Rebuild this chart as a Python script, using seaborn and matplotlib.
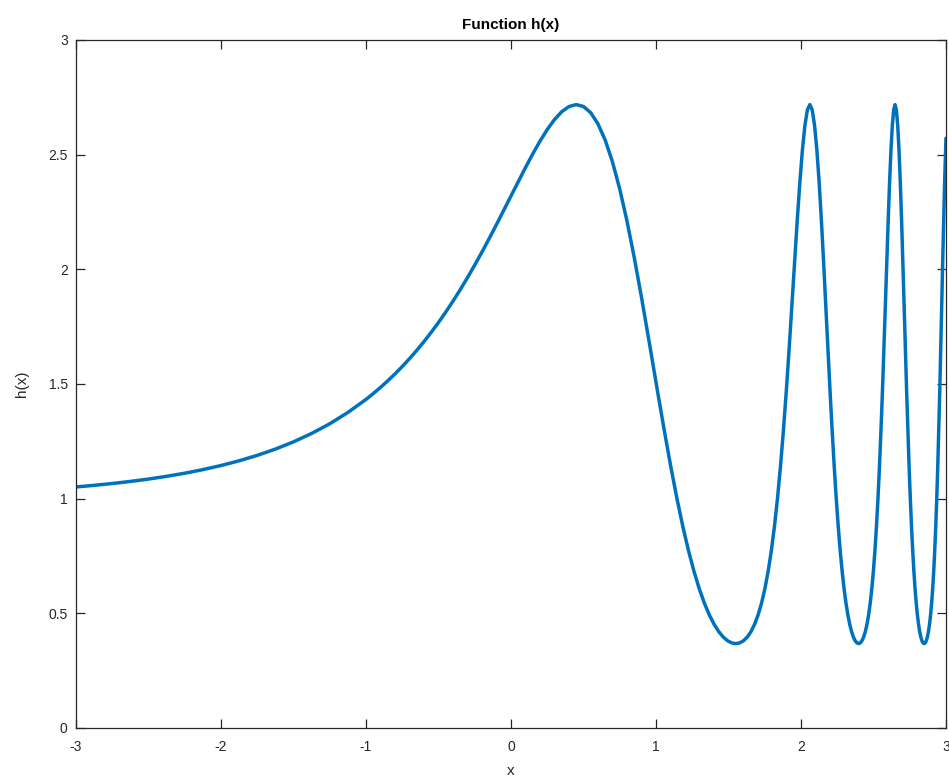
import matplotlib
matplotlib.use("Agg")
import matplotlib.pyplot as plt
import seaborn as sns
import pandas as pd

# Values (x, h(x))
x_vals = [
    -3.0, -2.875, -2.75, -2.625, -2.5, -2.375, -2.25, -2.125, -2.0,
    -1.875, -1.75, -1.625, -1.5, -1.375, -1.25, -1.125, -1.0,
    -0.95, -0.9, -0.85, -0.8, -0.75, -0.7, -0.65, -0.6, -0.55, -0.5,
    -0.45, -0.4, -0.35, -0.3, -0.25, -0.2, -0.15, -0.1, -0.05, 0.0,
    0.05, 0.1, 0.15, 0.2, 0.25, 0.3, 0.35, 0.4, 0.45, 0.5,
    0.55, 0.6, 0.65, 0.7, 0.75, 0.8, 0.85, 0.9,
    0.962408, 1.011199, 1.057718, 1.102171, 1.144730, 1.185552, 1.224772, 1.262513,
    1.298880, 1.333972, 1.367873, 1.400664, 1.432412, 1.463184, 1.493036, 1.522024,
    1.550195, 1.577594, 1.604262, 1.630238, 1.655555, 1.680248, 1.704345, 1.727876,
    1.750865, 1.773338, 1.795317, 1.816823, 1.837877, 1.858496, 1.878699, 1.898502,
    1.917920, 1.936968, 1.955660, 1.974009, 1.992028, 2.009728, 2.027119, 2.044214,
    2.061020, 2.077549, 2.093810, 2.109811, 2.125559, 2.141063, 2.156331, 2.171369,
    2.186184, 2.200783, 2.215171, 2.229356, 2.243342, 2.257136, 2.270741, 2.284164,
    2.297409, 2.310481, 2.323385, 2.336124, 2.348702, 2.361125, 2.373395, 2.385517,
    2.397493, 2.409327, 2.421023, 2.432584, 2.444013, 2.455312, 2.466485, 2.477535,
    2.488464, 2.499276, 2.509971, 2.520553, 2.531024, 2.541387, 2.551643, 2.561796,
    2.571846, 2.581797, 2.591649, 2.601405, 2.611067, 2.620636, 2.630115, 2.639505,
    2.648807, 2.658024, 2.667156, 2.676207, 2.685175, 2.694064, 2.702874, 2.711608,
    2.720266, 2.728850, 2.737360, 2.745799, 2.754168, 2.762467, 2.770697, 2.778860,
    2.786957, 2.794990, 2.802958, 2.810863, 2.818706, 2.826488, 2.834210, 2.841873,
    2.849478, 2.857025, 2.864516, 2.871951, 2.879331, 2.886658, 2.893930, 2.901150,
    2.908318, 2.915436, 2.922503, 2.929520, 2.936489, 2.943410, 2.950282, 2.957108,
    2.963888, 2.970622, 2.977311, 2.983956, 2.990556, 2.997114, 3.0,
]
h_vals = [
    1.05103, 1.05801, 1.06597, 1.07506, 1.08545, 1.09733, 1.11094, 1.12654, 1.14445,
    1.16504, 1.18875, 1.21609, 1.24768, 1.28422, 1.32658, 1.37572, 1.43279,
    1.45816, 1.48507, 1.51364, 1.54398, 1.57617, 1.61031, 1.64651, 1.68485, 1.72542, 1.76830,
    1.81356, 1.86123, 1.91132, 1.96382, 2.01865, 2.07566, 2.13466, 2.19531, 2.25721, 2.31978,
    2.38227, 2.44377, 2.50311, 2.55891, 2.60951, 2.65300, 2.68723, 2.70982, 2.71827, 2.71005,
    2.68272, 2.63421, 2.56296, 2.46820, 2.35020, 2.21047, 2.05179, 1.87825,
    1.64872, 1.46621, 1.29540, 1.13943, 1.0, 0.87763, 0.77196, 0.68203,
    0.60653, 0.54402, 0.49307, 0.45233, 0.42062, 0.39698, 0.38063, 0.37104,
    0.36788, 0.37104, 0.38063, 0.39698, 0.42062, 0.45233, 0.49307, 0.54402,
    0.60653, 0.68203, 0.77196, 0.87763, 1.0, 1.13943, 1.29540, 1.46621,
    1.64872, 1.83815, 2.02811, 2.21080, 2.37744, 2.51905, 2.62722, 2.69513,
    2.71828, 2.69513, 2.62722, 2.51905, 2.37744, 2.21080, 2.02811, 1.83815,
    1.64872, 1.46621, 1.29540, 1.13943, 1.0, 0.87763, 0.77196, 0.68203,
    0.60653, 0.54402, 0.49307, 0.45233, 0.42062, 0.39698, 0.38063, 0.37104,
    0.36788, 0.37104, 0.38063, 0.39698, 0.42062, 0.45233, 0.49307, 0.54402,
    0.60653, 0.68203, 0.77196, 0.87763, 1.0, 1.13943, 1.29540, 1.46621,
    1.64872, 1.83815, 2.02811, 2.21080, 2.37744, 2.51905, 2.62722, 2.69513,
    2.71828, 2.69513, 2.62722, 2.51905, 2.37744, 2.21080, 2.02811, 1.83815,
    1.64872, 1.46621, 1.29540, 1.13943, 1.0, 0.87763, 0.77196, 0.68203,
    0.60653, 0.54402, 0.49307, 0.45233, 0.42062, 0.39698, 0.38063, 0.37104,
    0.36788, 0.37104, 0.38063, 0.39698, 0.42062, 0.45233, 0.49307, 0.54402,
    0.60653, 0.68203, 0.77196, 0.87763, 1.0, 1.13943, 1.29540, 1.46621,
    1.64872, 1.83815, 2.02811, 2.21080, 2.37744, 2.51905, 2.57145,
]
x_ticks = [-3, -2, -1, 0, 1, 2, 3]
y_ticks = [0, 0.5, 1, 1.5, 2, 2.5, 3]
y_tick_labels = ["0", "0.5", "1", "1.5", "2", "2.5", "3"]
title_text = "Function h(x)"
x_label = "x"
y_label = "h(x)"

sns.set_style("ticks")
plt.rcParams["font.family"] = ["Liberation Sans", "DejaVu Sans"]

df = pd.DataFrame({"x": x_vals, "h": h_vals})

fig = plt.figure(figsize=(9.49, 7.78), dpi=100)
ax = fig.add_axes([0.0801, 0.0643, 0.9167, 0.8843])

sns.lineplot(data=df, x="x", y="h", ax=ax, color="#0072BD", linewidth=2.5,
             estimator=None, sort=False)

ax.set_xlim(-3, 3)
ax.set_ylim(0, 3)
ax.set_xticks(x_ticks)
ax.set_xticklabels([str(t) for t in x_ticks])
ax.set_yticks(y_ticks)
ax.set_yticklabels(y_tick_labels)

edge = "#262626"
for s in ax.spines.values():
    s.set_visible(True)
    s.set_color(edge)
    s.set_linewidth(0.9)

ax.tick_params(direction="in", length=6.3, width=0.9, color=edge,
               top=True, right=True, labelsize=10, labelcolor="#262626")
ax.tick_params(axis="x", pad=9)
ax.tick_params(axis="y", pad=6)
ax.grid(False)

ax.set_title(title_text, fontsize=11, fontweight="bold", color="black", pad=8)
ax.set_xlabel(x_label, fontsize=11, color="#262626", labelpad=7)
ax.set_ylabel(y_label, fontsize=11, color="#262626", labelpad=14)

fig.savefig("out.png", dpi=100)
